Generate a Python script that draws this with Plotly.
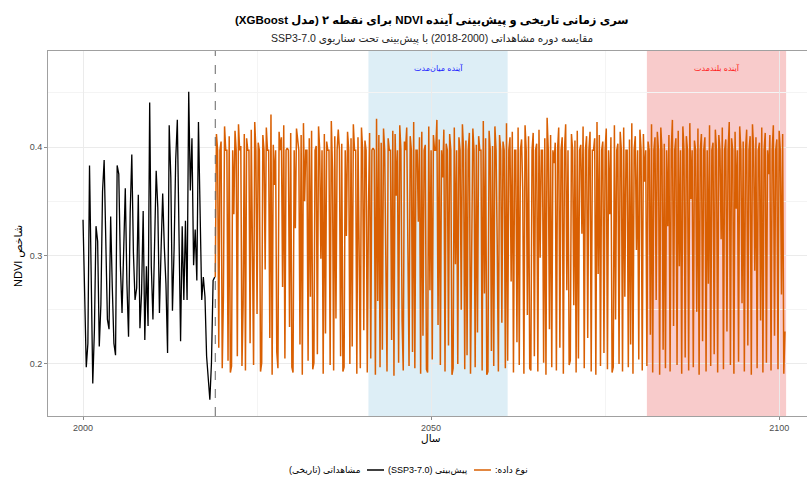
import numpy as np
import plotly.graph_objects as go

# ---------------- data ----------------
obs_start_year = 2000.0
obs_end_year = 2018.92
ndvi_observed = [
    0.333, 0.262, 0.197, 0.219, 0.383, 0.284, 0.182, 0.231, 0.327, 0.313,
    0.216, 0.255, 0.359, 0.388, 0.321, 0.241, 0.232, 0.336, 0.271, 0.219,
    0.208, 0.383, 0.375, 0.290, 0.247, 0.296, 0.362, 0.274, 0.225, 0.339,
    0.393, 0.302, 0.259, 0.270, 0.356, 0.233, 0.265, 0.341, 0.222, 0.290,
    0.235, 0.441, 0.290, 0.241, 0.324, 0.378, 0.344, 0.247, 0.305, 0.357,
    0.308, 0.274, 0.210, 0.420, 0.372, 0.249, 0.305, 0.388, 0.425, 0.302,
    0.221, 0.327, 0.259, 0.332, 0.259, 0.451, 0.360, 0.408, 0.291, 0.324,
    0.277, 0.423, 0.333, 0.259, 0.280, 0.262, 0.207, 0.185, 0.167, 0.201,
    0.277, 0.280,
]

fc_start_year = 2019.0
fc_steps_per_year = 6
ndvi_forecast = [
    0.280, 0.412, 0.397, 0.215, 0.397, 0.405, 0.196, 0.262, 0.419, 0.397, 0.397, 0.203,
    0.410, 0.192, 0.198, 0.397, 0.338, 0.415, 0.397, 0.207, 0.421, 0.397, 0.401, 0.198,
    0.255, 0.412, 0.194, 0.408, 0.397, 0.397, 0.219, 0.416, 0.310, 0.199, 0.423, 0.397,
    0.246, 0.404, 0.397, 0.193, 0.201, 0.411, 0.397, 0.287, 0.418, 0.397, 0.397, 0.224,
    0.430, 0.190, 0.402, 0.365, 0.397, 0.211, 0.196, 0.414, 0.397, 0.409, 0.271, 0.420,
    0.205, 0.397, 0.399, 0.397, 0.234, 0.413, 0.197, 0.192, 0.397, 0.325, 0.417, 0.404,
    0.397, 0.218, 0.411, 0.190, 0.422, 0.350, 0.397, 0.397, 0.203, 0.408, 0.262, 0.415,
    0.195, 0.201, 0.397, 0.401, 0.209, 0.419, 0.397, 0.297, 0.397, 0.191, 0.412, 0.228,
    0.405, 0.397, 0.397, 0.199, 0.424, 0.380, 0.194, 0.410, 0.242, 0.397, 0.416, 0.397,
    0.207, 0.403, 0.193, 0.197, 0.397, 0.318, 0.414, 0.397, 0.200, 0.408, 0.216, 0.421,
    0.397, 0.397, 0.191, 0.409, 0.272, 0.196, 0.418, 0.397, 0.231, 0.406, 0.397, 0.192,
    0.340, 0.413, 0.205, 0.397, 0.399, 0.397, 0.190, 0.426, 0.258, 0.411, 0.197, 0.404,
    0.213, 0.417, 0.397, 0.301, 0.193, 0.408, 0.397, 0.397, 0.222, 0.415, 0.189, 0.412,
    0.355, 0.397, 0.201, 0.420, 0.397, 0.240, 0.194, 0.405, 0.397, 0.418, 0.281, 0.198,
    0.410, 0.397, 0.211, 0.423, 0.196, 0.397, 0.397, 0.331, 0.409, 0.191, 0.414, 0.226,
    0.397, 0.402, 0.195, 0.192, 0.419, 0.268, 0.397, 0.204, 0.411, 0.397, 0.397, 0.425,
    0.236, 0.407, 0.199, 0.397, 0.372, 0.416, 0.193, 0.403, 0.397, 0.217, 0.412, 0.397,
    0.190, 0.196, 0.418, 0.292, 0.397, 0.200, 0.409, 0.397, 0.250, 0.421, 0.397, 0.195,
    0.406, 0.208, 0.397, 0.413, 0.191, 0.345, 0.417, 0.397, 0.197, 0.402, 0.229, 0.410,
    0.397, 0.397, 0.194, 0.424, 0.265, 0.408, 0.190, 0.193, 0.415, 0.397, 0.212, 0.401,
    0.198, 0.419, 0.397, 0.310, 0.193, 0.411, 0.397, 0.238, 0.405, 0.397, 0.196, 0.422,
    0.203, 0.397, 0.409, 0.276, 0.414, 0.192, 0.397, 0.397, 0.220, 0.418, 0.199, 0.397,
    0.407, 0.360, 0.191, 0.420, 0.397, 0.245, 0.410, 0.196, 0.194, 0.397, 0.413, 0.207,
    0.397, 0.403, 0.193, 0.416, 0.298, 0.397, 0.397, 0.201, 0.408, 0.190, 0.427, 0.397,
    0.232, 0.411, 0.197, 0.397, 0.385, 0.404, 0.194, 0.397, 0.418, 0.215, 0.397, 0.409,
    0.191, 0.397, 0.421, 0.268, 0.397, 0.199, 0.203, 0.412, 0.397, 0.254, 0.406, 0.192,
    0.415, 0.205, 0.397, 0.402, 0.320, 0.419, 0.196, 0.397, 0.410, 0.224, 0.397, 0.414,
    0.193, 0.397, 0.397, 0.408, 0.190, 0.423, 0.283, 0.411, 0.198, 0.397, 0.405, 0.210,
    0.397, 0.417, 0.195, 0.397, 0.338, 0.409, 0.192, 0.197, 0.420, 0.241, 0.397, 0.403,
    0.200, 0.414, 0.397, 0.193, 0.418, 0.262, 0.397, 0.397, 0.197, 0.407, 0.218, 0.422,
    0.191, 0.397, 0.410, 0.305, 0.397, 0.204, 0.416, 0.397, 0.194, 0.412, 0.368, 0.397,
    0.198, 0.405, 0.397, 0.227, 0.421, 0.192, 0.397, 0.409, 0.259, 0.414, 0.397, 0.190,
    0.418, 0.397, 0.213, 0.403, 0.196, 0.397, 0.327, 0.411, 0.193, 0.397, 0.425, 0.235,
    0.397, 0.408, 0.199, 0.415, 0.290, 0.397, 0.191, 0.419, 0.397, 0.206, 0.410, 0.397,
    0.194, 0.422, 0.352, 0.397, 0.197, 0.406, 0.397, 0.248, 0.417, 0.190, 0.397, 0.412,
    0.221, 0.397, 0.409, 0.193, 0.397, 0.274, 0.420, 0.198, 0.397, 0.404, 0.209, 0.416,
    0.397, 0.192, 0.411, 0.397, 0.315, 0.418, 0.195, 0.397, 0.407, 0.230, 0.397, 0.423,
    0.199, 0.408, 0.397, 0.191, 0.414, 0.343, 0.397, 0.202, 0.419, 0.397, 0.256, 0.405,
    0.193, 0.397, 0.416, 0.217, 0.397, 0.410, 0.190, 0.421, 0.397, 0.286, 0.409, 0.196,
    0.397, 0.404, 0.240, 0.418, 0.192, 0.397, 0.413, 0.201, 0.397, 0.375, 0.411, 0.194,
    0.397, 0.420, 0.226, 0.397, 0.407, 0.195, 0.415, 0.397, 0.264, 0.412, 0.191, 0.230,
]

split_year = 2019.0
mid_term_period = (2041.0, 2061.0)
long_term_period = (2081.0, 2101.0)
x_tick_values = [2000, 2050, 2100]
y_tick_values = [0.2, 0.3, 0.4]
label_y_value = 0.473

RLE, PDF, RLM = "\u202b", "\u202c", "\u200f"


def rtl(s):
    return RLE + s + PDF


title_text = rtl("سری زمانی تاریخی و پیش‌بینی آینده NDVI برای نقطه ۲ (مدل XGBoost)")
subtitle_text = rtl("مقایسه دوره مشاهداتی (2000" + RLM + "-2018) با پیش‌بینی تحت سناریوی SSP3-7.0")
y_title_text = rtl("شاخص NDVI")
x_title_text = rtl("سال")
mid_label = rtl("آینده میان‌مدت")
long_label = rtl("آینده بلندمدت")
legend_title = rtl("نوع داده:")
obs_label = rtl("مشاهداتی (تاریخی)")
fc_label = rtl("پیش‌بینی (SSP3-7.0)")

obs_color = "#000000"
fc_color = "#D95F02"

# ---------------- figure ----------------
W, H = 807, 479
ML, MR, MT, MB = 48, 0, 51, 63
PW, PH = W - ML - MR, H - MT - MB


def px(xp):
    return (xp - ML) / PW


def py(yp):
    return (H - MB - yp) / PH


obs_x = np.linspace(obs_start_year, obs_end_year, len(ndvi_observed))
fc_x = fc_start_year + np.arange(len(ndvi_forecast)) / fc_steps_per_year

fig = go.Figure()

fig.add_vrect(x0=mid_term_period[0], x1=mid_term_period[1],
              fillcolor="rgb(221,238,246)", line_width=0, layer="below")
fig.add_vrect(x0=long_term_period[0], x1=long_term_period[1],
              fillcolor="rgb(248,203,203)", line_width=0, layer="below")

fig.add_trace(go.Scatter(x=fc_x, y=ndvi_forecast, mode="lines",
                         line=dict(color=fc_color, width=1.5), showlegend=False,
                         hoverinfo="skip"))
fig.add_trace(go.Scatter(x=obs_x, y=ndvi_observed, mode="lines",
                         line=dict(color=obs_color, width=1.3), showlegend=False,
                         hoverinfo="skip"))

fig.add_vline(x=split_year, line=dict(color="#666666", width=1, dash="dash"))

font_fam = "Liberation Sans, Arial, DejaVu Sans, sans-serif"

ann = []
ann.append(dict(text=mid_label, x=sum(mid_term_period) / 2, y=label_y_value,
                xref="x", yref="y", showarrow=False,
                font=dict(size=8, color="#1a1aff", family=font_fam)))
ann.append(dict(text=long_label, x=sum(long_term_period) / 2, y=label_y_value,
                xref="x", yref="y", showarrow=False,
                font=dict(size=8, color="#ff1a1a", family=font_fam)))
# title & subtitle
ann.append(dict(text="<b>" + title_text + "</b>", x=px(432), y=py(20), xref="paper", yref="paper",
                showarrow=False, xanchor="center", yanchor="middle",
                font=dict(size=11.5, color="#000000", family=font_fam)))
ann.append(dict(text=subtitle_text, x=px(432), y=py(39), xref="paper", yref="paper",
                showarrow=False, xanchor="center", yanchor="middle",
                font=dict(size=10.5, color="#222222", family=font_fam)))
# axis titles
ann.append(dict(text=x_title_text, x=px(431), y=py(438), xref="paper", yref="paper",
                showarrow=False, xanchor="center", yanchor="middle",
                font=dict(size=10.5, color="#000000", family=font_fam)))
ann.append(dict(text=y_title_text, x=px(18), y=py(256), xref="paper", yref="paper",
                showarrow=False, xanchor="center", yanchor="middle", textangle=-90,
                font=dict(size=11, color="#000000", family=font_fam)))
# manual legend (right-to-left)
leg_y = py(470)
ann.append(dict(text=legend_title, x=px(530), y=leg_y, xref="paper", yref="paper",
                showarrow=False, xanchor="right", yanchor="middle",
                font=dict(size=9, color="#000000", family=font_fam)))
ann.append(dict(text=fc_label, x=px(470), y=leg_y, xref="paper", yref="paper",
                showarrow=False, xanchor="right", yanchor="middle",
                font=dict(size=9, color="#000000", family=font_fam)))
ann.append(dict(text=obs_label, x=px(363), y=leg_y, xref="paper", yref="paper",
                showarrow=False, xanchor="right", yanchor="middle",
                font=dict(size=9, color="#000000", family=font_fam)))

fig.add_shape(type="line", xref="paper", yref="paper", x0=px(474), x1=px(491),
              y0=leg_y, y1=leg_y, line=dict(color=fc_color, width=1.5))
fig.add_shape(type="line", xref="paper", yref="paper", x0=px(367), x1=px(384),
              y0=leg_y, y1=leg_y, line=dict(color=obs_color, width=1.5))

fig.update_layout(
    width=W, height=H,
    margin=dict(l=ML, r=MR, t=MT, b=MB, pad=0),
    paper_bgcolor="white", plot_bgcolor="white",
    font=dict(family=font_fam, size=9, color="#4d4d4d"),
    annotations=ann,
    showlegend=False,
    xaxis=dict(range=[1994.97, 2104.0], tickvals=x_tick_values,
               showgrid=True, gridcolor="#ebebeb", gridwidth=1,
               minor=dict(dtick=25, tick0=2000, showgrid=True, gridcolor="#f4f4f4", gridwidth=0.6),
               ticks="outside", ticklen=3, tickcolor="#8c8c8c", tickwidth=1,
               showline=True, linecolor="#a0a0a0", linewidth=1, mirror=True,
               zeroline=False, tickfont=dict(size=9, color="#4d4d4d")),
    yaxis=dict(range=[0.152, 0.4885], tickvals=y_tick_values, tickformat=".1f",
               showgrid=True, gridcolor="#ebebeb", gridwidth=1,
               minor=dict(dtick=0.05, tick0=0.15, showgrid=True, gridcolor="#f4f4f4", gridwidth=0.6),
               ticks="outside", ticklen=3, tickcolor="#8c8c8c", tickwidth=1,
               showline=True, linecolor="#a0a0a0", linewidth=1, mirror=False,
               zeroline=False, tickfont=dict(size=9, color="#4d4d4d")),
)

fig.write_html("out.html", config={"displayModeBar": False},
               post_script="document.body.style.margin='0';document.body.style.overflow='hidden';")
